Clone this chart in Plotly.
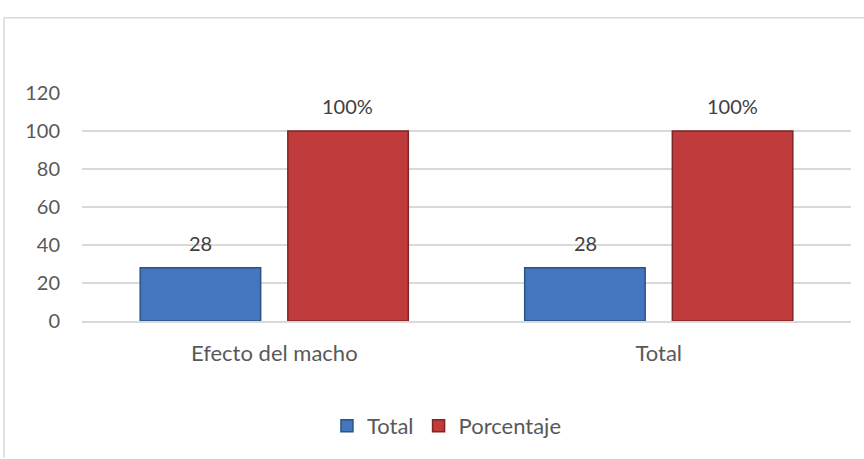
import plotly.graph_objects as go

categories = ["Efecto del macho", "Total"]
total_vals = [28, 28]
porcentaje_vals = [100, 100]
y_ticks = [0, 20, 40, 60, 80, 100, 120]

font_family = "Lato, Carlito, Calibri, sans-serif"
grey = "#595959"
label_color = "#404040"

fig = go.Figure()
fig.add_trace(go.Bar(
    name="Total", x=categories, y=total_vals,
    marker=dict(color="#4476BF", line=dict(color="#2C5386", width=1.5)),
))
fig.add_trace(go.Bar(
    name="Porcentaje", x=categories, y=porcentaje_vals,
    marker=dict(color="#C03B3B", line=dict(color="#7E2626", width=1.5)),
))

annotations = []
for cat, v in zip(categories, total_vals):
    annotations.append(dict(x=cat, y=v, xref="x", yref="y", text=str(v), showarrow=False,
                            xshift=-73.5, yshift=11, yanchor="bottom",
                            font=dict(size=20, color=label_color, family=font_family)))
for cat, v in zip(categories, porcentaje_vals):
    annotations.append(dict(x=cat, y=v, xref="x", yref="y", text=f"{v}%", showarrow=False,
                            xshift=73.5, yshift=11, yanchor="bottom",
                            font=dict(size=20, color=label_color, family=font_family)))

fig.update_layout(
    width=864, height=459,
    margin=dict(l=82, r=13, t=93, b=129),
    paper_bgcolor="white", plot_bgcolor="white",
    barmode="group", bargap=0.232, bargroupgap=0.184,
    font=dict(family=font_family, size=20, color=grey),
    showlegend=True,
    legend=dict(orientation="h", x=0.4746, xanchor="center", y=-0.46, yanchor="middle",
                font=dict(size=22, color=grey, family=font_family),
                itemwidth=30, traceorder="normal"),
    annotations=annotations,
    shapes=[
        dict(type="line", xref="paper", yref="paper", x0=-0.1014, x1=1.05, y0=1.33, y1=1.33,
             line=dict(color="#D9D9D9", width=1.5)),
        dict(type="line", xref="paper", yref="paper", x0=-0.1014, x1=-0.1014, y0=1.33, y1=-0.6,
             line=dict(color="#D9D9D9", width=1.5)),
    ],
)
fig.update_xaxes(showgrid=False, showline=True, linecolor="#D9D9D9", linewidth=1.5,
                 ticks="", tickfont=dict(size=22, color=grey), ticklabelstandoff=12)
fig.update_yaxes(range=[0, 120], tickvals=y_ticks, showgrid=True, gridcolor="#D9D9D9",
                 gridwidth=1.5, zeroline=False, showline=False, ticks="",
                 tickfont=dict(size=20, color=grey), ticklabelstandoff=21)

fig.write_html("out.html", config={"displayModeBar": False},
               post_script="document.body.style.margin='0';document.body.style.padding='0';")
